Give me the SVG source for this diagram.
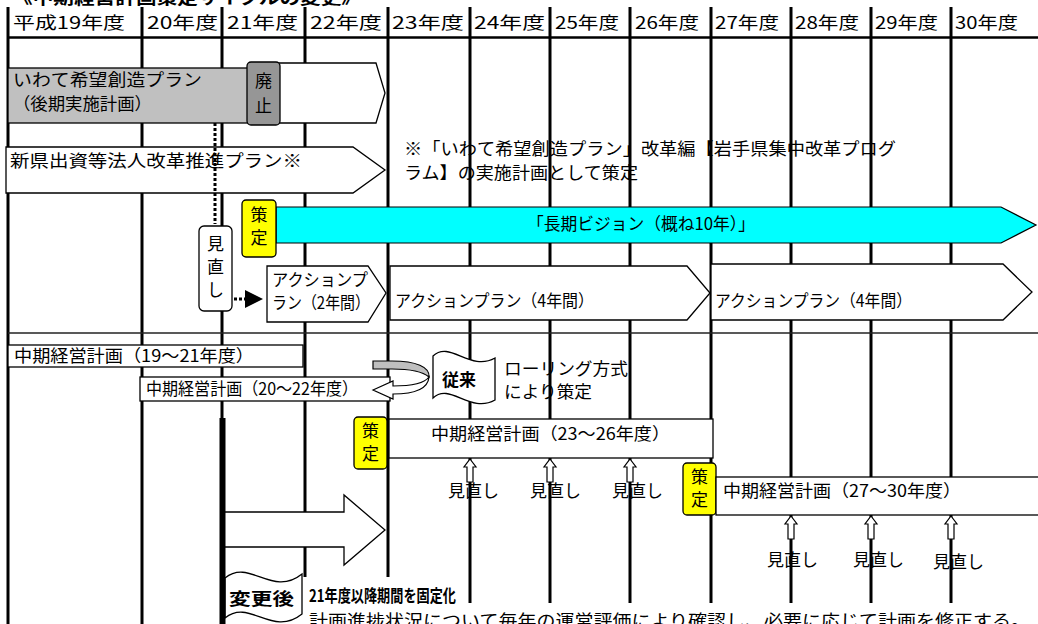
<svg xmlns="http://www.w3.org/2000/svg" width="1038" height="624" viewBox="0 0 1038 624">
<style>
text{font-family:"Noto Sans CJK JP","Noto Sans CJK SC",sans-serif;fill:#000;font-size:17px}
.b{font-weight:bold}
.g{stroke:#000;stroke-width:3;fill:none}
.s{stroke:#000;stroke-width:1.3;fill:#fff}
.y{fill:#ffff00;stroke:#000;stroke-width:1.3}
.c{text-anchor:middle}
</style>
<defs>
<polygon id="up" points="0,0 6,8 3,8 3,23 -3,23 -3,8 -6,8" fill="#fff" stroke="#000" stroke-width="1.2"/>
</defs>
<rect width="1038" height="624" fill="#fff"/>
<text class="b" x="12" y="4" font-size="20" textLength="350" lengthAdjust="spacingAndGlyphs">《中期経営計画策定サイクルの変更》</text>
<g id="grid">
<line class="g" x1="8" y1="7" x2="8" y2="624"/>
<line class="g" x1="142" y1="7" x2="142" y2="624"/>
<line class="g" x1="222" y1="7" x2="222" y2="418"/>
<line class="g" x1="305" y1="7" x2="305" y2="577"/>
<line class="g" x1="388" y1="7" x2="388" y2="577"/>
<line class="g" x1="470" y1="7" x2="470" y2="603"/>
<line class="g" x1="550" y1="7" x2="550" y2="603"/>
<line class="g" x1="630" y1="7" x2="630" y2="603"/>
<line class="g" x1="711" y1="7" x2="711" y2="603"/>
<line class="g" x1="791" y1="7" x2="791" y2="603"/>
<line class="g" x1="871" y1="7" x2="871" y2="603"/>
<line class="g" x1="951" y1="7" x2="951" y2="603"/>
<line x1="8" y1="37.5" x2="1038" y2="37.5" stroke="#000" stroke-width="2.5"/>
<line x1="8" y1="333" x2="1038" y2="333" stroke="#222" stroke-width="1.5"/>
</g>
<g id="header">
<text x="13" y="29" textLength="112" lengthAdjust="spacingAndGlyphs">平成19年度</text>
<text x="147" y="29" textLength="71" lengthAdjust="spacingAndGlyphs">20年度</text>
<text x="227" y="29" textLength="71" lengthAdjust="spacingAndGlyphs">21年度</text>
<text x="310" y="29" textLength="72" lengthAdjust="spacingAndGlyphs">22年度</text>
<text x="392" y="29" textLength="72" lengthAdjust="spacingAndGlyphs">23年度</text>
<text x="474" y="29" textLength="71" lengthAdjust="spacingAndGlyphs">24年度</text>
<text x="555" y="29" textLength="64" lengthAdjust="spacingAndGlyphs">25年度</text>
<text x="635" y="29" textLength="64" lengthAdjust="spacingAndGlyphs">26年度</text>
<text x="715" y="29" textLength="64" lengthAdjust="spacingAndGlyphs">27年度</text>
<text x="795" y="29" textLength="64" lengthAdjust="spacingAndGlyphs">28年度</text>
<text x="875" y="29" textLength="63" lengthAdjust="spacingAndGlyphs">29年度</text>
<text x="955" y="29" textLength="63" lengthAdjust="spacingAndGlyphs">30年度</text>
</g>
<g id="iwate-plan">
<polygon class="s" points="250,63 376,63 385,93 376,123 250,123"/>
<rect x="8" y="68" width="240" height="55" fill="#c0c0c0" stroke="#000" stroke-width="1.3"/>
<text x="13" y="86" textLength="189" lengthAdjust="spacingAndGlyphs">いわて希望創造プラン</text>
<text x="13" y="110" textLength="139" lengthAdjust="spacingAndGlyphs">（後期実施計画）</text>
</g>
<g id="haishi">
<rect x="247" y="62" width="33" height="63" rx="4" fill="#969696" stroke="#000" stroke-width="1.3"/>
<text class="c" x="263.5" y="87">廃</text>
<text class="c" x="263.5" y="112">止</text>
</g>
<g id="shinken-plan">
<polygon class="s" points="6,147 353,147 385,170 353,193 6,193"/>
<text x="10" y="167" textLength="292" lengthAdjust="spacingAndGlyphs">新県出資等法人改革推進プラン※</text>
</g>
<g id="note">
<text x="404" y="155" textLength="492" lengthAdjust="spacingAndGlyphs">※「いわて希望創造プラン」改革編【岩手県集中改革プログ</text>
<text x="404" y="179" textLength="234" lengthAdjust="spacingAndGlyphs">ラム】の実施計画として策定</text>
</g>
<g id="vision">
<polygon points="276,207 1001,207 1036,225 1001,243 276,243" fill="#00ffff" stroke="#000" stroke-width="1.2"/>
<text x="527" y="230" textLength="228" lengthAdjust="spacingAndGlyphs">「長期ビジョン（概ね10年）」</text>
</g>
<g id="sakutei-1">
<rect class="y" x="242" y="200" width="34" height="57" rx="4"/>
<text class="c" x="259" y="221" font-size="18">策</text>
<text class="c" x="259" y="244" font-size="18">定</text>
</g>
<g id="minaoshi-box">
<rect class="s" x="199" y="226" width="33" height="85" rx="5"/>
<text class="c" x="215.5" y="250" font-size="18">見</text>
<text class="c" x="215.5" y="273" font-size="18">直</text>
<text class="c" x="215.5" y="296" font-size="18">し</text>
</g>
<g id="action-2y">
<polygon class="s" points="267,266 368,266 386,293 368,322 267,322"/>
<text x="272" y="286" textLength="96" lengthAdjust="spacingAndGlyphs">アクションプ</text>
<text x="272" y="309" textLength="98" lengthAdjust="spacingAndGlyphs">ラン（2年間）</text>
</g>
<g id="action-4y-a">
<polygon class="s" points="390,266 687,266 710,293 687,320 390,320"/>
<text x="395" y="307" textLength="199" lengthAdjust="spacingAndGlyphs">アクションプラン（4年間）</text>
</g>
<g id="action-4y-b">
<polygon class="s" points="711,264 1003,264 1032,292 1003,320 711,320"/>
<text x="715" y="307" textLength="197" lengthAdjust="spacingAndGlyphs">アクションプラン（4年間）</text>
</g>
<g id="plan-19-21">
<rect class="s" x="8" y="345" width="295" height="22"/>
<text x="14" y="362" textLength="240" lengthAdjust="spacingAndGlyphs">中期経営計画（19～21年度）</text>
</g>
<g id="plan-20-22">
<rect class="s" x="140" y="377" width="250" height="24"/>
<text x="146" y="395" font-size="15" textLength="212" lengthAdjust="spacingAndGlyphs">中期経営計画（20～22年度）</text>
</g>
<g id="juurai">
<path class="s" d="M433,356 C450,340 470,372 495,358 L495,400 C470,414 450,382 433,398 Z"/>
<text class="b c" x="459" y="386" font-size="20">従来</text>
</g>
<g id="rolling">
<text x="504" y="375" textLength="124" lengthAdjust="spacingAndGlyphs">ローリング方式</text>
<text x="504" y="398" textLength="88" lengthAdjust="spacingAndGlyphs">により策定</text>
</g>
<g id="sakutei-2">
<rect class="y" x="354" y="417" width="33" height="52" rx="4"/>
<text class="c" x="370.5" y="437" font-size="18">策</text>
<text class="c" x="370.5" y="460" font-size="18">定</text>
</g>
<g id="plan-23-26">
<rect class="s" x="389" y="419" width="324" height="39"/>
<text x="431" y="440" textLength="239" lengthAdjust="spacingAndGlyphs">中期経営計画（23～26年度）</text>
</g>
<g id="sakutei-3">
<rect class="y" x="683" y="463" width="33" height="52" rx="4"/>
<text class="c" x="699.5" y="483" font-size="18">策</text>
<text class="c" x="699.5" y="506" font-size="18">定</text>
</g>
<g id="plan-27-30">
<rect class="s" x="716" y="477" width="330" height="38"/>
<text x="723" y="497" textLength="238" lengthAdjust="spacingAndGlyphs">中期経営計画（27～30年度）</text>
</g>
<g id="review-labels">
<text x="448" y="497" textLength="51" lengthAdjust="spacingAndGlyphs">見直し</text>
<text x="530" y="497" textLength="51" lengthAdjust="spacingAndGlyphs">見直し</text>
<text x="612" y="497" textLength="51" lengthAdjust="spacingAndGlyphs">見直し</text>
<text x="767" y="566" textLength="51" lengthAdjust="spacingAndGlyphs">見直し</text>
<text x="853" y="566" textLength="51" lengthAdjust="spacingAndGlyphs">見直し</text>
<text x="933" y="568" textLength="51" lengthAdjust="spacingAndGlyphs">見直し</text>
</g>
<g id="henkougo">
<path class="s" d="M225,578 C250,558 272,598 302,574 L302,614 C272,638 250,598 225,618 Z"/>
<text class="b" x="229" y="605" font-size="20" textLength="65" lengthAdjust="spacingAndGlyphs">変更後</text>
</g>
<g id="fixed-text">
<text class="b" x="309" y="602" font-size="19" textLength="147" lengthAdjust="spacingAndGlyphs">21年度以降期間を固定化</text>
<text x="309" y="627" font-size="18" textLength="721" lengthAdjust="spacingAndGlyphs">計画進捗状況について毎年の運営評価により確認し、必要に応じて計画を修正する。</text>
</g>
<g id="connectors">
<line x1="215" y1="123" x2="215" y2="224" stroke="#000" stroke-width="3" stroke-dasharray="3 2"/>
<line x1="234" y1="299" x2="246" y2="299" stroke="#000" stroke-width="3" stroke-dasharray="3 2"/>
<polygon points="245,290 263,299 245,308" fill="#000"/>
<path d="M373,361 L392,361 C416,361 430,367 429,377 C422,371 410,369 392,369 L373,369 Z" fill="#bfbfbf" stroke="#000" stroke-width="1.2"/>
<path d="M373,390 L393,381 L393,386 C410,386 424,384 429,377 C428,389 415,394 393,394 L393,399 Z" fill="#fff" stroke="#000" stroke-width="1.2"/>
<use href="#up" x="470" y="459"/>
<use href="#up" x="550" y="459"/>
<use href="#up" x="630" y="459"/>
<use href="#up" x="791" y="516"/>
<use href="#up" x="871" y="516"/>
<use href="#up" x="951" y="516"/>
<polygon class="s" points="224,512 344,512 344,495 385,530 344,565 344,547 224,547"/>
<line x1="222.5" y1="418" x2="222.5" y2="624" stroke="#000" stroke-width="6"/>
</g>
</svg>
